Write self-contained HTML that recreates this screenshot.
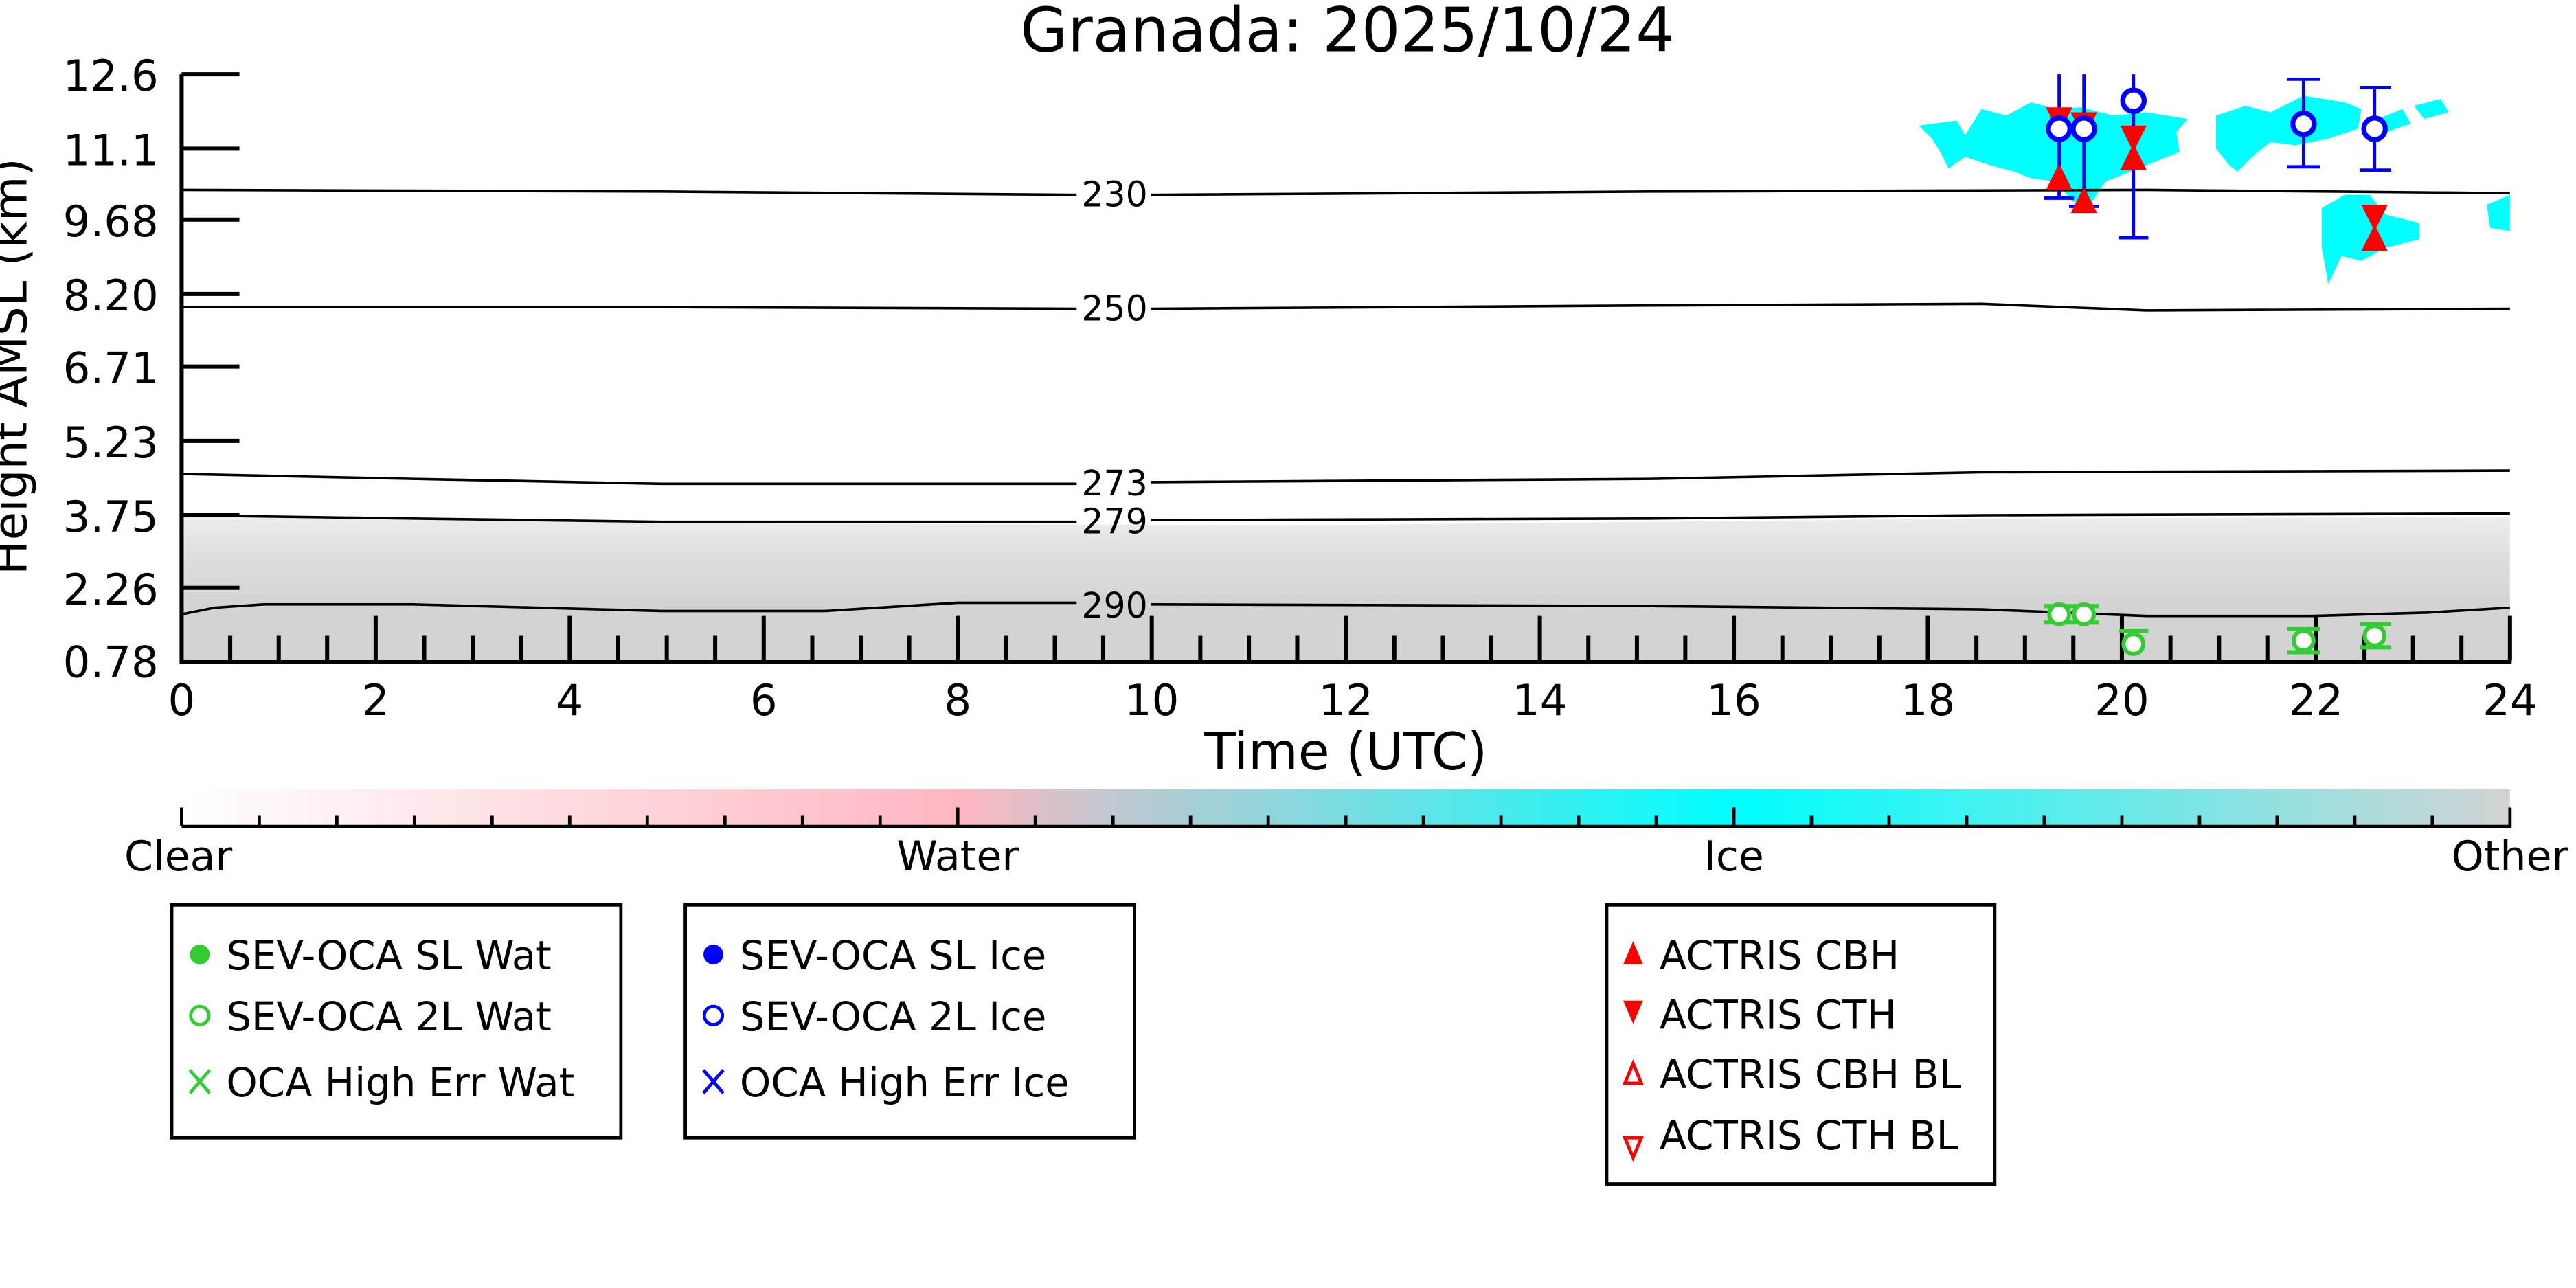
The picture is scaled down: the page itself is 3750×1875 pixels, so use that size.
<!DOCTYPE html>
<html><head><meta charset="utf-8"><style>html,body{margin:0;padding:0;background:#fff}svg{display:block}</style></head>
<body>
<svg xmlns="http://www.w3.org/2000/svg" width="3750" height="1875" viewBox="0 0 1560 780" font-family="DejaVu Sans, Liberation Sans, sans-serif">
<defs>
<linearGradient id="cb" x1="0" x2="1" y1="0" y2="0">
<stop offset="0" stop-color="#ffffff"/><stop offset="0.333" stop-color="#ffb6c1"/><stop offset="0.40" stop-color="#c0c8d0"/><stop offset="0.667" stop-color="#00ffff"/><stop offset="1" stop-color="#d3d3d3"/>
</linearGradient>
<linearGradient id="gr" x1="0" x2="0" y1="0" y2="1">
<stop offset="0" stop-color="#eeeeee"/><stop offset="0.3" stop-color="#dddddd"/><stop offset="0.6" stop-color="#d6d6d6"/><stop offset="1" stop-color="#d3d3d3"/>
</linearGradient>
</defs>
<rect width="1560" height="780" fill="#fff"/>
<text x="816" y="31" font-size="37" text-anchor="middle">Granada: 2025/10/24</text>
<!-- gray region -->
<path d="M110 312 L400 317 L800 318 L1200 314 L1520 313 L1520 400 L110 400Z" fill="url(#gr)"/>
<rect x="110" y="360" width="1410" height="40" fill="#d3d3d3"/>
<!-- cyan clouds -->
<g fill="#00ffff">
<path d="M1162 76 L1185 73 L1190 82 L1200 66 L1215 70 L1230 62 L1245 66 L1260 65 L1280 70 L1300 68 L1325 72 L1318 80 L1320 92 L1300 100 L1290 104 L1275 110 L1265 125 L1255 122 L1245 110 L1230 108 L1220 104 L1205 100 L1190 95 L1180 102 L1175 92 L1170 84Z"/>
<path d="M1342 70 L1360 64 L1375 68 L1395 58 L1420 62 L1430 66 L1428 78 L1410 84 L1390 88 L1375 86 L1365 94 L1355 104 L1350 100 L1342 90Z"/>
<path d="M1440 72 L1455 66 L1460 75 L1445 80Z"/>
<path d="M1462 64 L1478 60 L1483 68 L1468 72Z"/>
<path d="M1406 126 L1420 118 L1435 118 L1445 130 L1465 135 L1465 145 L1445 150 L1430 158 L1418 155 L1410 172 L1406 150Z"/>
<path d="M1506 124 L1520 118 L1520 140 L1508 138Z"/>
</g>
<!-- contours -->
<g fill="none" stroke="#000" stroke-width="1.5">
<path d="M110 115 L400 116 L652 118 M697 118 L1000 116 L1300 115 L1520 117"/>
<path d="M110 186 L400 186 L652 187 M697 187 L1000 185 L1200 184 L1300 188 L1520 187"/>
<path d="M110 287 L250 290 L400 293 L652 293 M697 292 L1000 290 L1200 286 L1520 285"/>
<path d="M110 312 L250 314 L400 316 L652 316 M697 315 L1000 314 L1200 312 L1520 311"/>
<path d="M110 372 L130 368 L160 366 L250 366 L400 370 L500 370 L580 365 L652 365 M697 366 L1000 367 L1200 369 L1300 373 L1400 373 L1470 371 L1520 368"/>
</g>
<g font-size="21" text-anchor="middle">
<text x="675" y="125">230</text><text x="675" y="194">250</text><text x="675" y="300">273</text><text x="675" y="323">279</text><text x="675" y="374">290</text>
</g>
<!-- axes -->
<g stroke="#000" stroke-width="2.5" fill="none">
<path d="M110 45 L110 401 L1521 401"/>
<path d="M110 45 H145 M110 90 H145 M110 133 H145 M110 178 H145 M110 222 H145 M110 267 H145 M110 312 H145 M110 356 H145"/>
<path d="M227.5 400V373 M345 400V373 M462.5 400V373 M580 400V373 M697.5 400V373 M815 400V373 M932.5 400V373 M1050 400V373 M1167.5 400V373 M1285 400V373 M1402.5 400V373 M1520 400V373"/>
<path d="M139.4 400V385 M168.8 400V385 M198.1 400V385 M256.9 400V385 M286.3 400V385 M315.6 400V385 M374.4 400V385 M403.8 400V385 M433.1 400V385 M491.9 400V385 M521.3 400V385 M550.6 400V385 M609.4 400V385 M638.8 400V385 M668.1 400V385 M726.9 400V385 M756.3 400V385 M785.6 400V385 M844.4 400V385 M873.8 400V385 M903.1 400V385 M961.9 400V385 M991.3 400V385 M1020.6 400V385 M1079.4 400V385 M1108.8 400V385 M1138.1 400V385 M1196.9 400V385 M1226.3 400V385 M1255.6 400V385 M1314.4 400V385 M1343.8 400V385 M1373.1 400V385 M1431.9 400V385 M1461.3 400V385 M1490.6 400V385"/>
</g>
<g font-size="26" text-anchor="end">
<text x="96" y="55">12.6</text><text x="96" y="100">11.1</text><text x="96" y="143">9.68</text><text x="96" y="188">8.20</text><text x="96" y="232">6.71</text><text x="96" y="277">5.23</text><text x="96" y="322">3.75</text><text x="96" y="366">2.26</text><text x="96" y="410">0.78</text>
</g>
<g font-size="26" text-anchor="middle">
<text x="110" y="433">0</text><text x="227.5" y="433">2</text><text x="345" y="433">4</text><text x="462.5" y="433">6</text><text x="580" y="433">8</text><text x="697.5" y="433">10</text><text x="815" y="433">12</text><text x="932.5" y="433">14</text><text x="1050" y="433">16</text><text x="1167.5" y="433">18</text><text x="1285" y="433">20</text><text x="1402.5" y="433">22</text><text x="1520" y="433">24</text>
</g>
<text x="815" y="466" font-size="31" text-anchor="middle">Time (UTC)</text>
<text transform="translate(16,222) rotate(-90)" font-size="28" text-anchor="middle">Height AMSL (km)</text>
<!-- error bars -->
<g stroke="#0000ff" stroke-width="2" fill="none">
<path d="M1247 45V120 M1238 120H1256 M1262 45V125 M1253 125H1271 M1292 45V144 M1283 144H1301"/>
<path d="M1395 48V101 M1385 48H1405 M1385 101H1405 M1438 53V103 M1429 53H1448 M1429 103H1448"/>
</g>
<g stroke="#33cc33" stroke-width="2.5" fill="none">
<path d="M1238 367H1256 M1238 377H1256 M1253 367H1271 M1253 377H1271 M1283 382H1301 M1385 381H1405 M1385 395H1405 M1429 378H1448 M1429 392H1448"/>
<circle cx="1247" cy="372" r="6" fill="#fff"/><circle cx="1262" cy="372" r="6" fill="#fff"/><circle cx="1292" cy="390" r="6" fill="#fff"/><circle cx="1395" cy="388" r="6" fill="#fff"/><circle cx="1438" cy="385" r="6" fill="#fff"/>
</g>
<g fill="#ff0000">
<path d="M1239 65H1255L1247 81Z M1254 68H1270L1262 84Z M1284 76H1300L1292 92Z M1430 124H1446L1438 140Z"/>
<path d="M1239 115H1255L1247 99Z M1254 129H1270L1262 113Z M1284 103H1300L1292 87Z M1430 152H1446L1438 136Z"/>
</g>
<g stroke="#0000ff" stroke-width="3" fill="#fff">
<circle cx="1247" cy="78" r="6.5"/><circle cx="1262" cy="78" r="6.5"/><circle cx="1292" cy="61" r="6.5"/><circle cx="1395" cy="75" r="6.5"/><circle cx="1438" cy="78" r="6.5"/>
</g>
<!-- colorbar -->
<rect x="110" y="478" width="1410" height="22" fill="url(#cb)"/>
<g stroke="#000" stroke-width="2" fill="none">
<path d="M110 500.5H1521"/>
<path d="M110 500V489 M580 500V489 M1050 500V489 M1520 500V489"/>
<path d="M157 500V494 M204 500V494 M251 500V494 M298 500V494 M345 500V494 M392 500V494 M439 500V494 M486 500V494 M533 500V494 M627 500V494 M674 500V494 M721 500V494 M768 500V494 M815 500V494 M862 500V494 M909 500V494 M956 500V494 M1003 500V494 M1097 500V494 M1144 500V494 M1191 500V494 M1238 500V494 M1285 500V494 M1332 500V494 M1379 500V494 M1426 500V494 M1473 500V494"/>
</g>
<g font-size="25" text-anchor="middle">
<text x="108" y="527">Clear</text><text x="580" y="527">Water</text><text x="1050" y="527">Ice</text><text x="1520" y="527">Other</text>
</g>
<!-- legends -->
<g stroke="#000" stroke-width="2" fill="none">
<rect x="104" y="548" width="272" height="141"/>
<rect x="415" y="548" width="272" height="141"/>
<rect x="973" y="548" width="235" height="169"/>
</g>
<g font-size="24">
<text x="137" y="587">SEV-OCA SL Wat</text><text x="137" y="624">SEV-OCA 2L Wat</text><text x="137" y="664">OCA High Err Wat</text>
<text x="448" y="587">SEV-OCA SL Ice</text><text x="448" y="624">SEV-OCA 2L Ice</text><text x="448" y="664">OCA High Err Ice</text>
<text x="1005" y="587">ACTRIS CBH</text><text x="1005" y="623">ACTRIS CTH</text><text x="1005" y="659">ACTRIS CBH BL</text><text x="1005" y="696">ACTRIS CTH BL</text>
</g>
<circle cx="121" cy="578" r="6" fill="#33cc33"/>
<circle cx="121" cy="615" r="5.5" fill="none" stroke="#33cc33" stroke-width="2"/>
<path d="M115 648L127 662M127 648L115 662" stroke="#33cc33" stroke-width="2"/>
<circle cx="432" cy="578" r="6" fill="#0000ff"/>
<circle cx="432" cy="615" r="5.5" fill="none" stroke="#0000ff" stroke-width="2"/>
<path d="M426 648L438 662M438 648L426 662" stroke="#0000ff" stroke-width="2"/>
<path d="M983 584H995L989 570Z M983 606H995L989 620Z" fill="#ff0000"/>
<path d="M984 656H994L989 644Z M984 689H994L989 701Z" fill="none" stroke="#ff0000" stroke-width="2"/>
</svg>
</body></html>
